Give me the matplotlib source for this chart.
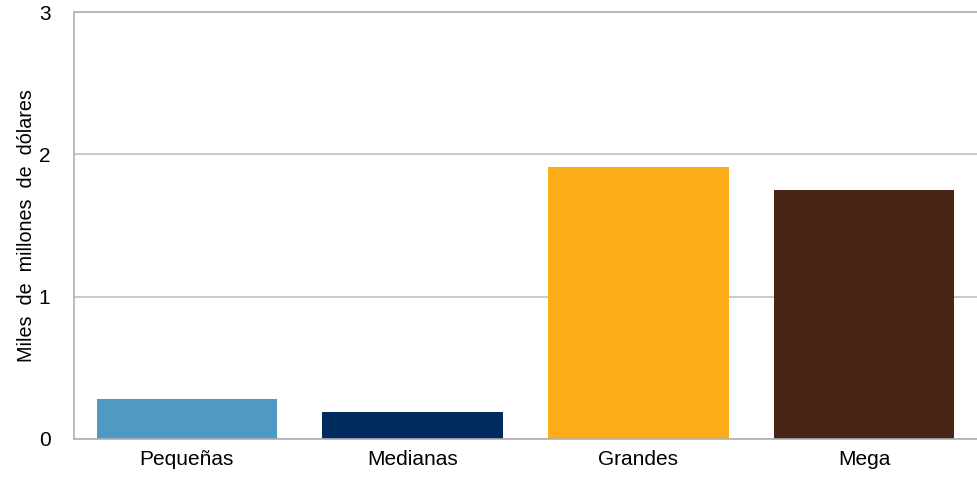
import matplotlib
matplotlib.use("Agg")
from matplotlib import pyplot as plt

plt.rcParams['font.family'] = ['Liberation Sans', 'DejaVu Sans']

categorias = ["Pequeñas", "Medianas", "Grandes", "Mega"]
valores = [0.28, 0.19, 1.91, 1.75]
colores = ["#4F9AC3", "#002B5E", "#FDAC1A", "#4A2515"]

fig = plt.figure(figsize=(9.77, 4.78), dpi=100)
ax = fig.add_axes([74/977, 39/478, 903/977, 427/478])

x = range(len(categorias))
ax.bar(x, valores, width=0.8, color=colores, zorder=2)

ax.set_xlim(-0.5, 3.5)
ax.set_ylim(0, 3)
ax.set_yticks([0, 1, 2, 3])
ax.set_xticks(list(x))
ax.set_xticklabels(categorias)
ax.yaxis.grid(True, color="#C0C0C0", linewidth=1.2, zorder=0)
ax.tick_params(axis="both", length=0, labelsize=15, pad=8)
ax.tick_params(axis="y", pad=17)

for s in ["left", "bottom", "top"]:
    ax.spines[s].set_color("#B0B0B0")
    ax.spines[s].set_linewidth(1.2)
ax.spines["right"].set_visible(False)

ax.set_ylabel("Miles  de  millones  de  dólares", fontsize=14.2, labelpad=2)

fig.savefig("out.png", dpi=100)
